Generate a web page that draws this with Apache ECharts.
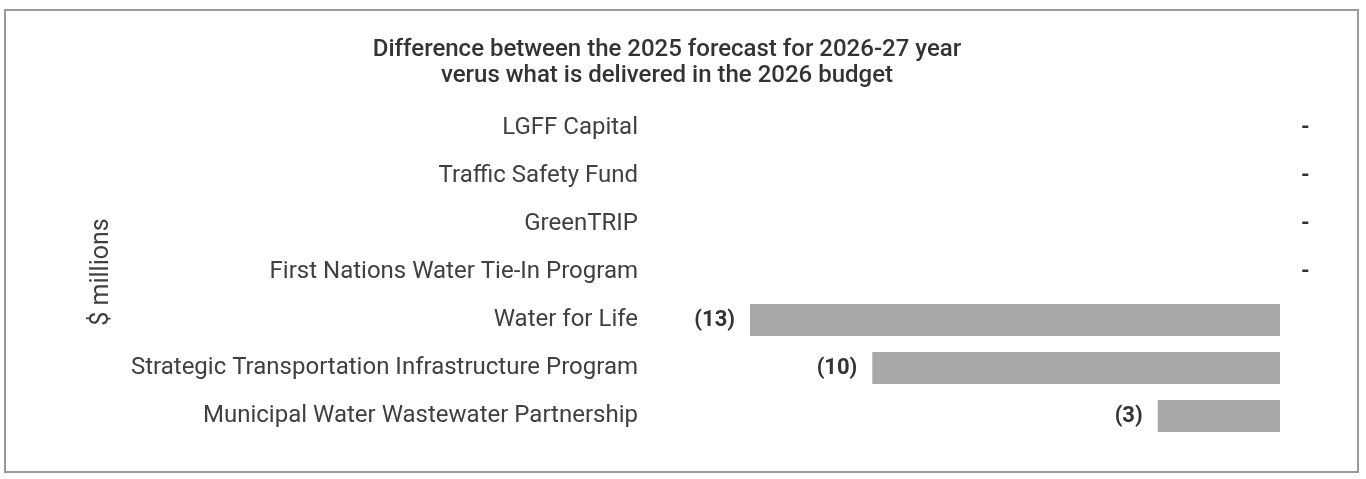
<!DOCTYPE html>
<html><head><meta charset="utf-8">
<script src="https://cdn.jsdelivr.net/npm/echarts@6/dist/echarts.min.js"></script>
<style>html,body{margin:0;padding:0;background:#fff}#c{width:1366px;height:479px}</style>
</head><body><div id="c"></div>
<script>
const titleLines = ['Difference between the 2025 forecast for 2026-27 year', 'verus what is delivered in the 2026 budget'];
const categories = ['LGFF Capital','Traffic Safety Fund','GreenTRIP','First Nations Water Tie-In Program','Water for Life','Strategic Transportation Infrastructure Program','Municipal Water Wastewater Partnership'];
const values = [0, 0, 0, 0, -13, -10, -3];
const axisName = '$ millions';

const chart = echarts.init(document.getElementById('c'));
chart.setOption({
  animation: false,
  title: {
    text: titleLines.join('\n'),
    left: 662, textAlign: 'center', top: 32,
    textStyle: {fontFamily: 'Roboto', fontSize: 24, fontWeight: 500, color: '#333', lineHeight: 26}
  },
  graphic: [{type:'rect', shape:{x:5,y:10,width:1353,height:462}, style:{fill:'none', stroke:'#9a9a9a', lineWidth:2}, silent:true}],
  grid: {left: 750, right: 86, top: 104, bottom: 39},
  xAxis: {type:'value', min:-13, max:0, show:false},
  yAxis: {
    type:'category', data: categories, inverse: true,
    axisLine:{show:false}, axisTick:{show:false},
    axisLabel:{margin:112, fontFamily:'Roboto', fontSize:24, color:'#404040'},
    name: axisName, nameLocation:'middle', nameGap: 636, nameRotate: 90,
    nameTextStyle:{fontFamily:'Roboto', fontSize:25, color:'#404040', padding:[0,0,0,0]}
  },
  series: [{
    type:'bar', barWidth: 32,
    itemStyle:{color:'#a8a8a8'},
    data: values.map(v => ({
      value: v,
      label: {show:true, position: v < 0 ? 'left' : 'right', distance: v < 0 ? 15 : 21,
        formatter: v < 0 ? '(' + Math.abs(v) + ')' : '-',
        fontFamily:'Roboto', fontSize:22, fontWeight:'bold', color:'#333'}
    }))
  }]
});
</script></body></html>
